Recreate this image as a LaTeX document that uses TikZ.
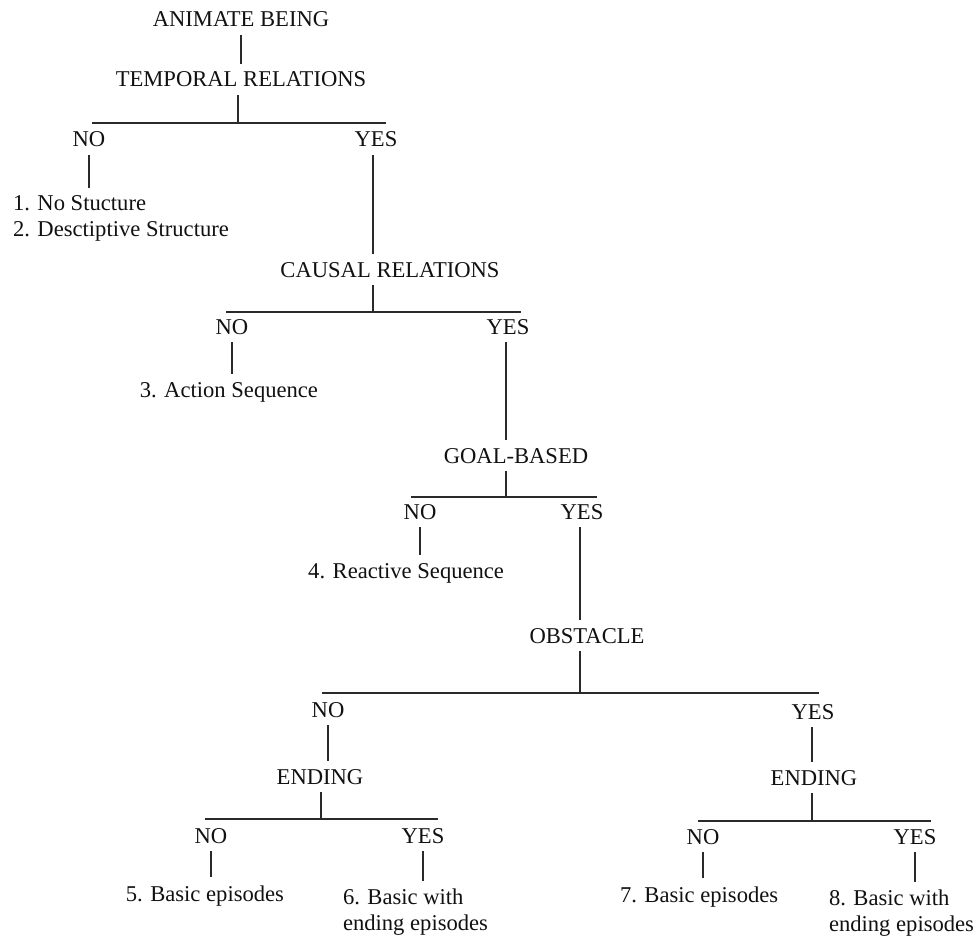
\documentclass[tikz,border=0pt]{standalone}
\usepackage{fontspec}
\setmainfont{Liberation Serif}
\newcommand\dgfs{\fontsize{22.6}{26}\selectfont}
\definecolor{inkc}{HTML}{111111}
\definecolor{linec}{HTML}{2A2A2A}
\tikzset{
  txt/.style={inner sep=0pt, outer xsep=0pt, outer ysep=8pt, font=\dgfs, text=inkc},
  ln/.style={draw=linec, line width=1.5pt}
}
\begin{document}
\begin{tikzpicture}[x=1pt,y=-1pt]
\useasboundingbox (0,0) rectangle (979,936);
% level 0
\node[txt, anchor=base] (ab) at (241,27) {ANIMATE BEING};
\node[txt, anchor=base] (tr) at (241,87) {TEMPORAL RELATIONS};
\coordinate (j1) at (238,123);
\coordinate (b1l) at (92,123);
\coordinate (b1r) at (386,123);
\node[txt, anchor=base] (no1) at (89,147) {NO};
\node[txt, anchor=base] (yes1) at (376,147) {YES};
\node[txt, anchor=north west, align=left] (r12) at (13,188) {1. No Stucture\\2. Desctiptive Structure};
% causal
\node[txt, anchor=base] (cr) at (390,277) {CAUSAL RELATIONS};
\coordinate (j2) at (373,312);
\coordinate (b2l) at (226,312);
\coordinate (b2r) at (521,312);
\node[txt, anchor=base] (no2) at (232,334) {NO};
\node[txt, anchor=base] (yes2) at (508,334) {YES};
\node[txt, anchor=base east] (r3) at (318,397) {3. Action Sequence};
% goal
\node[txt, anchor=base] (gb) at (516,463) {GOAL-BASED};
\coordinate (j3) at (506,497);
\coordinate (b3l) at (411,497);
\coordinate (b3r) at (597,497);
\node[txt, anchor=base] (no3) at (420,519) {NO};
\node[txt, anchor=base] (yes3) at (582,519) {YES};
\node[txt, anchor=base east] (r4) at (504,578) {4. Reactive Sequence};
% obstacle
\node[txt, anchor=base] (ob) at (587,643) {OBSTACLE};
\coordinate (j4) at (580,693);
\coordinate (b4l) at (322,693);
\coordinate (b4r) at (819,693);
\node[txt, anchor=base] (no4) at (328,717) {NO};
\node[txt, anchor=base] (yes4) at (813,719) {YES};
% endings
\node[txt, anchor=base] (en1) at (320,784) {ENDING};
\node[txt, anchor=base] (en2) at (814,785) {ENDING};
\coordinate (j5) at (321,819);
\coordinate (b5l) at (205,819);
\coordinate (b5r) at (438,819);
\coordinate (j6) at (812,821);
\coordinate (b6l) at (698,821);
\coordinate (b6r) at (931,821);
\node[txt, anchor=base] (no5) at (211,843) {NO};
\node[txt, anchor=base] (yes5) at (423,843) {YES};
\node[txt, anchor=base] (no6) at (703,844) {NO};
\node[txt, anchor=base] (yes6) at (915,844) {YES};
\node[txt, anchor=base east] (r5) at (284,901) {5. Basic episodes};
\node[txt, anchor=north west, align=left] (r6) at (343,881) {6. Basic with\\ending episodes};
\node[txt, anchor=base west] (r7) at (620,902) {7. Basic episodes};
\node[txt, anchor=north west, align=left] (r8) at (829,882) {8. Basic with\\ending episodes};
% connectors
\draw[ln] (ab.south) -- (ab.south |- tr.north);
\draw[ln] (tr.south -| j1) -- (j1);
\draw[ln] (b1l) -- (b1r);
\draw[ln] (no1.south) -- (no1.south |- r12.north);
\draw[ln] (yes1.south -| j2) -- (cr.north -| j2);
\draw[ln] (cr.south -| j2) -- (j2);
\draw[ln] (b2l) -- (b2r);
\draw[ln] (no2.south) -- (no2.south |- r3.north);
\draw[ln] (yes2.south -| j3) -- (gb.north -| j3);
\draw[ln] (gb.south -| j3) -- (j3);
\draw[ln] (b3l) -- (b3r);
\draw[ln] (no3.south) -- (no3.south |- r4.north);
\draw[ln] (yes3.south -| j4) -- (ob.north -| j4);
\draw[ln] (ob.south -| j4) -- (j4);
\draw[ln] (b4l) -- (b4r);
\draw[ln] (no4.south) -- (no4.south |- en1.north);
\draw[ln] (yes4.south -| j6) -- (en2.north -| j6);
\draw[ln] (en1.south -| j5) -- (j5);
\draw[ln] (b5l) -- (b5r);
\draw[ln] (en2.south -| j6) -- (j6);
\draw[ln] (b6l) -- (b6r);
\draw[ln] (no5.south) -- (no5.south |- r5.north);
\draw[ln] (yes5.south) -- (yes5.south |- r6.north);
\draw[ln] (no6.south) -- (no6.south |- r7.north);
\draw[ln] (yes6.south) -- (yes6.south |- r8.north);
\end{tikzpicture}
\end{document}
